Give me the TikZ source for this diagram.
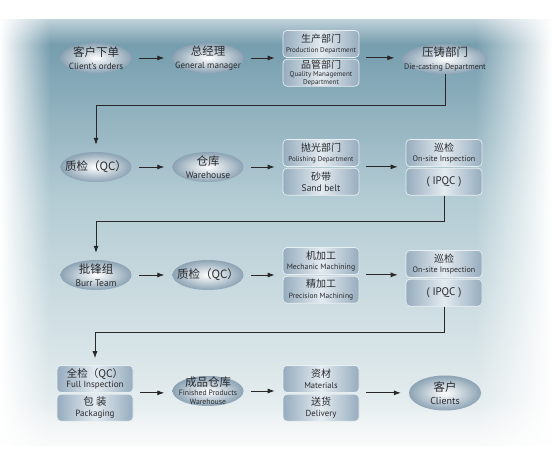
\documentclass[tikz,border=0pt]{standalone}
\usepackage{fontspec}
\setmainfont{PT Sans}
\newfontfamily\cjk{Noto Sans CJK SC}
\usepackage{xcolor}
\usepackage{tikz}
\usetikzlibrary{shapes.geometric, arrows, arrows.meta, positioning, fadings}
\definecolor{bgtop}{RGB}{108, 150, 168}
\definecolor{bgmid}{RGB}{180, 204, 212}
\definecolor{bglow}{RGB}{238, 243, 244}
\definecolor{ovalrim}{RGB}{140, 163, 180}
\definecolor{cellside}{RGB}{150, 172, 190}
\definecolor{cellmid}{RGB}{228, 235, 240}
\definecolor{cellline}{RGB}{232, 239, 242}
\definecolor{ink}{RGB}{40, 42, 46}
\definecolor{wire}{RGB}{40, 40, 40}
\newcommand{\tline}[2][9]{\makebox[0pt]{\fontsize{#1}{#1}\selectfont #2}}
\newcommand{\zh}[2][11.5]{\makebox[0pt]{\cjk\fontsize{#1}{#1}\selectfont #2}}
\tikzset{
    oval/.style={ellipse, minimum width=71pt, minimum height=30pt, inner sep=0pt, inner ysep=-5pt,
        align=center, inner color=white, outer color=ovalrim, text=ink, font=\fontsize{9}{12.5}\selectfont},
    cell/.style={rectangle, rounded corners=4pt, minimum width=76pt, minimum height=27pt, inner sep=0pt,
        align=center, left color=cellside, right color=cellside, middle color=cellmid,
        draw=cellline, line width=0.7pt, text=ink, font=\fontsize{8}{10.5}\selectfont},
    flow/.style={-{Latex[length=7pt, width=5pt]}, draw=wire, line width=0.8pt, shorten <=7pt, shorten >=8pt},
    drop/.style={-{Latex[length=7pt, width=5pt]}, draw=wire, line width=0.8pt, shorten >=7pt}
}

\begin{document}
\begin{tikzpicture}[x=1pt, y=-1pt]
    % background
    \fill[white] (0,0) rectangle (552,465);
    \shade[top color=bgtop, bottom color=bgmid] (0,20) rectangle (552,200);
    \shade[top color=bgmid, bottom color=bglow] (0,200) rectangle (552,445);
    \fill[white, path fading=south] (0,0) rectangle (552,45);
    \fill[white, path fading=north] (0,400) rectangle (552,465);
    \fill[white, path fading=east] (0,0) rectangle (50,465);
    \fill[white, path fading=west] (475,0) rectangle (552,465);

    % row 1
    \node[oval] (orders) at (96,58) {\zh{客户下单}\\\tline{Client's orders}};
    \node[oval] (gm) at (208,58) {\zh{总经理}\\\tline{General manager}};
    \node[cell] (prod) at (321,44) {\zh[10]{生产部门}\\\tline[7]{Production Department}};
    \node[cell, below=1pt of prod, font=\fontsize{7}{8}\selectfont] (qm)
        {\zh[10]{品管部门}\\\tline[7]{Quality Management}\\\tline[7]{Department}};
    \node[oval, minimum width=85pt] (diecast) at (445,59) {\zh{压铸部门}\\\tline[8]{Die-casting Department}};

    % row 2
    \node[oval] (qcA) at (96,167) {\zh{质检（QC）}};
    \node[oval] (store) at (208,167) {\zh{仓库}\\\tline[9.5]{Warehouse}};
    \node[cell] (polish) at (321,153) {\zh[10]{抛光部门}\\\tline[7]{Polishing Department}};
    \node[cell, below=1pt of polish] (sand) {\zh[10]{砂带}\\\tline[9.5]{Sand belt}};
    \node[cell] (patrolA) at (444,153) {\zh[10]{巡检}\\\tline[8]{On-site Inspection}};
    \node[cell, below=1pt of patrolA] (ipqcA) {\tline[11]{( IPQC )}};

    % row 3
    \node[oval] (burr) at (96,275) {\zh{批锋组}\\\tline[9.5]{Burr Team}};
    \node[oval] (qcB) at (208,275) {\zh{质检（QC）}};
    \node[cell] (mech) at (321,261) {\zh[10]{机加工}\\\tline[7.8]{Mechanic Machining}};
    \node[cell, below=1pt of mech] (prec) {\zh[10]{精加工}\\\tline[7.5]{Precision Machining}};
    \node[cell] (patrolB) at (444,264) {\zh[10]{巡检}\\\tline[8]{On-site Inspection}};
    \node[cell, below=1pt of patrolB] (ipqcB) {\tline[11]{( IPQC )}};

    % row 4
    \node[cell] (full) at (95,379) {\zh[10.5]{全检（QC）}\\\tline[9]{Full Inspection}};
    \node[cell, below=1pt of full] (pack) {\zh[10.5]{包 装}\\\tline{Packaging}};
    \node[oval, font=\fontsize{7.7}{9}\selectfont] (finished) at (208,391)
        {\zh{成品仓库}\\\tline[7.7]{Finished Products}\\\tline[7.7]{Warehouse}};
    \node[cell] (mat) at (321,379) {\zh[10]{资材}\\\tline[8.5]{Materials}};
    \node[cell, below=1pt of mat] (deliv) {\zh[10]{送货}\\\tline[8.8]{Delivery}};
    \node[oval, minimum width=72pt, minimum height=35pt] (clients) at (445,393)
        {\zh{客户}\\\tline[10]{Clients}};

    % arrows
    \draw[flow] (orders) -- (gm);
    \draw[flow] (gm) -- (gm -| prod.west);
    \draw[flow] (prod.south east) -- (prod.south east -| diecast.west);
    \draw[drop] (diecast.south) -- ++(0,31) -| (qcA.north);
    \draw[flow] (qcA) -- (store);
    \draw[flow] (store) -- (store -| polish.west);
    \draw[flow] (polish.south east) -- (polish.south east -| patrolA.west);
    \draw[drop] (ipqcA.south) -- ++(0,26) -| (burr.north);
    \draw[flow] (burr) -- (qcB);
    \draw[flow] (qcB) -- (qcB -| mech.west);
    \draw[flow] (mech.south east) -- (mech.south east -| patrolB.west);
    \draw[drop] (ipqcB.south) -- ++(0,26) -| (full.north);
    \draw[flow] (full.south east) -- (full.south east -| finished.west);
    \draw[flow] (finished) -- (finished -| mat.west);
    \draw[flow] (mat.south east) -- (mat.south east -| clients.west);
\end{tikzpicture}
\end{document}
